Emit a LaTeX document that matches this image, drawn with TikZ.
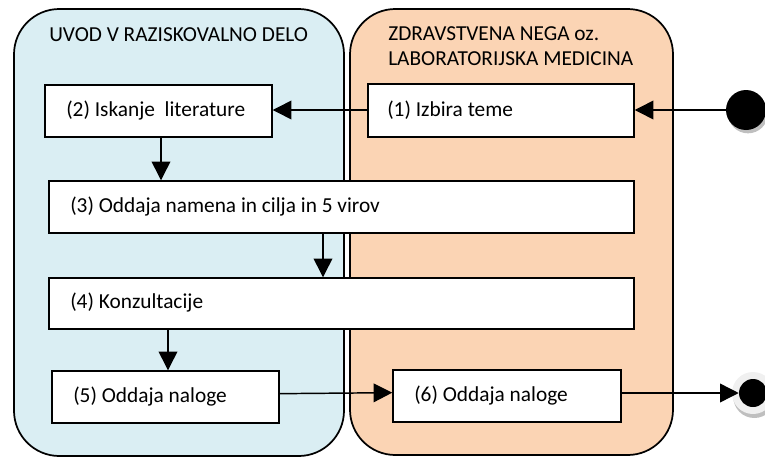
\documentclass[tikz,border=0pt]{standalone}
\usepackage{fontspec}
\setmainfont{Carlito}
\usetikzlibrary{arrows.meta,shadows}
\definecolor{laneblue}{HTML}{DAEEF3}
\definecolor{laneorange}{HTML}{FBD4B4}
\begin{document}
\begin{tikzpicture}[x=0.75pt,y=-0.75pt,
  lane/.style={draw=black, line width=1.3pt, rounded corners=34pt, inner sep=0pt},
  stepbox/.style={draw=black, fill=white, line width=1.1pt, inner sep=0pt},
  txt/.style={anchor=base west, inner sep=0pt, font=\fontsize{16}{19}\selectfont},
  arr/.style={line width=1.1pt, -{Triangle[length=14pt,width=14pt]}},
  ln/.style={line width=1.1pt}]
\useasboundingbox (0,0) rectangle (765,457);
% lanes
\node[lane, fill=laneblue, minimum width=247.5pt, minimum height=335.25pt] (laneA) at (179,232.5) {};
\node[lane, fill=laneorange, minimum width=242.25pt, minimum height=334.5pt] (laneB) at (511.5,232) {};
\node[txt] (labA) at (49,41) {UVOD V RAZISKOVALNO DELO};
\node[txt] (labB1) at (388,40) {ZDRAVSTVENA NEGA oz.};
\node[txt] (labB2) at (388,65) {LABORATORIJSKA MEDICINA};
% boxes
\node[stepbox, minimum width=170.25pt, minimum height=39pt] (b2) at (158.5,111) {};
\node[stepbox, minimum width=199.5pt, minimum height=39.75pt] (b1) at (501,110.5) {};
\node[stepbox, minimum width=438.75pt, minimum height=39pt] (b3) at (341.5,207) {};
\node[stepbox, minimum width=438.75pt, minimum height=38.25pt] (b4) at (341.5,303.5) {};
\node[stepbox, minimum width=170.25pt, minimum height=39pt] (b5) at (165.5,397) {};
\node[stepbox, minimum width=171pt, minimum height=39pt] (b6) at (507,396) {};
\node[txt] (t2) at (66,116) {(2) Iskanje\ \ literature};
\node[txt] (t1) at (387,116) {(1) Izbira teme};
\node[txt] (t3) at (70,212) {(3) Oddaja namena in cilja in 5 virov};
\node[txt] (t4) at (70,308) {(4) Konzultacije};
\node[txt] (t5) at (73,402) {(5) Oddaja naloge};
\node[txt] (t6) at (414,401) {(6) Oddaja naloge};
% start / end
\node[circle, fill=black, minimum size=30pt, inner sep=0pt,
  drop shadow={shadow xshift=1.5pt, shadow yshift=-2.5pt, fill=black!25, opacity=1}] (start) at (746,110) {};
\node[circle, fill=black!6, minimum size=31.5pt, inner sep=0pt,
  drop shadow={shadow xshift=1pt, shadow yshift=-3pt, fill=black!25, opacity=1}] (endout) at (753,393) {};
\node[circle, fill=black, minimum size=21pt, inner sep=0pt] (endin) at (753,393) {};
% connectors
\coordinate (c1) at (161,0);
\coordinate (c2) at (323,0);
\coordinate (c3) at (168,0);
\draw[arr] (start) -- (b1.east |- start);
\draw[arr] (b1.west |- start) -- (b2.east |- start);
\draw[arr] (b2.south -| c1) -- (b3.north -| c1);
\draw[arr] (b3.south -| c2) -- (b4.north -| c2);
\draw[arr] (b4.south -| c3) -- (b5.north -| c3);
\draw[arr] ([yshift=2.5pt]b5.east) -- ([yshift=2.5pt]b6.west);
\draw[arr] (b6.east |- endin) -- (endin.west);
\end{tikzpicture}
\end{document}
